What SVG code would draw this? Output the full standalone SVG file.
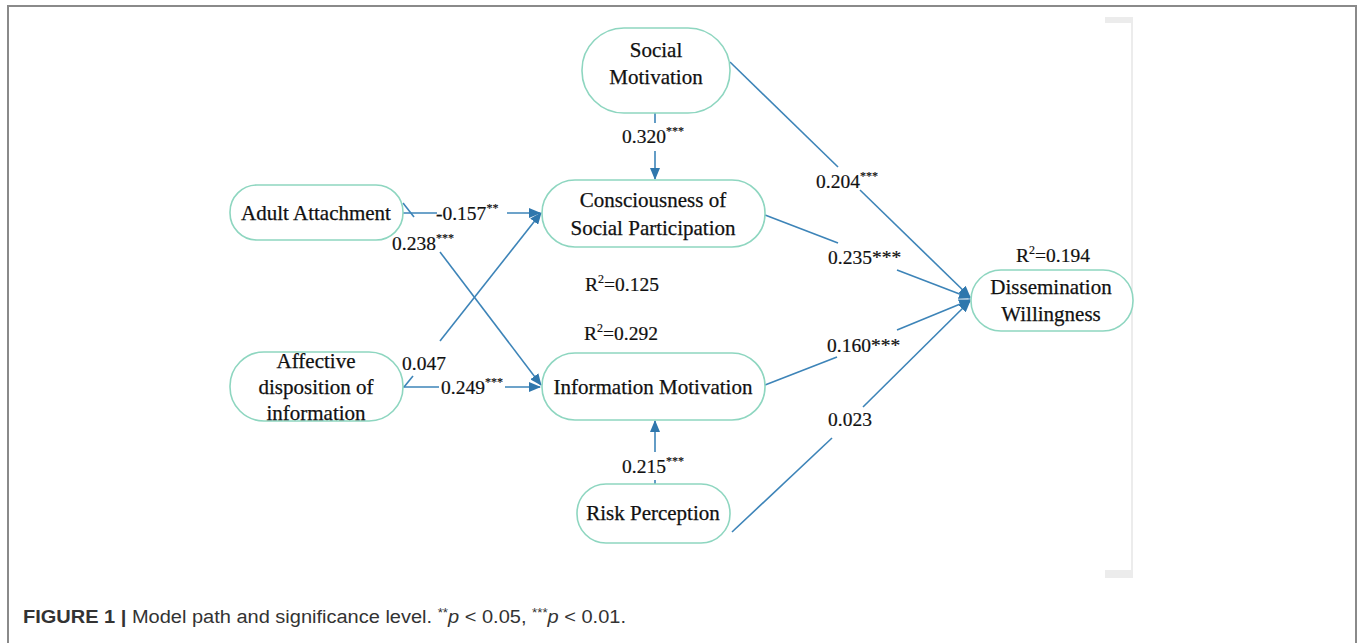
<svg xmlns="http://www.w3.org/2000/svg" width="1360" height="643" viewBox="0 0 1360 643">
<defs>
<style>
.node rect{fill:#fff;stroke:#8ed6c0;stroke-width:1.6}
.nt{font-family:"Liberation Serif","Times New Roman",serif;font-size:21px;fill:#111;text-anchor:middle;stroke:#111;stroke-width:0.25}
.lb{font-family:"Liberation Serif","Times New Roman",serif;font-size:19.5px;fill:#111;stroke:#111;stroke-width:0.2}
.sup{font-size:12px}
.edge{fill:none;stroke:#3d84b8;stroke-width:1.6}
.cap{font-family:"Liberation Sans",Arial,sans-serif;font-size:18px;fill:#333}
</style>
<marker id="arr" viewBox="0 0 12 10" refX="11" refY="5" markerWidth="12" markerHeight="10" markerUnits="userSpaceOnUse" orient="auto">
<path d="M0,0 L12,5 L0,10 z" fill="#2f77ad"/>
</marker>
</defs>
<rect x="0" y="0" width="1360" height="643" fill="#fff"/>
<path d="M8,650 V6 H1356 V650" fill="none" stroke="#8a8a8a" stroke-width="2"/>
<g id="bracket" fill="#ececec">
<rect x="1105" y="17" width="28" height="6"/>
<rect x="1105" y="570" width="28" height="8"/>
<rect x="1131" y="17" width="2" height="561"/>
</g>
<g id="connectors">
<path class="edge" d="M655,113 V123"/>
<path class="edge" d="M655,151 V179" marker-end="url(#arr)"/>
<path class="edge" d="M403,213 H437"/>
<path class="edge" d="M507,213 H540" marker-end="url(#arr)"/>
<path class="edge" d="M403,203 L414,217"/>
<path class="edge" d="M440,252 L541,385" marker-end="url(#arr)"/>
<path class="edge" d="M404,387 L413,376"/>
<path class="edge" d="M440,341 L541,213" marker-end="url(#arr)"/>
<path class="edge" d="M403,387 H439"/>
<path class="edge" d="M505,387 H540" marker-end="url(#arr)"/>
<path class="edge" d="M655,484 V480"/>
<path class="edge" d="M655,452 V421" marker-end="url(#arr)"/>
<path class="edge" d="M730,62 L838,167"/>
<path class="edge" d="M860,190 L970,297" marker-end="url(#arr)"/>
<path class="edge" d="M765,215 L838,243"/>
<path class="edge" d="M897,270 L970,298" marker-end="url(#arr)"/>
<path class="edge" d="M765,385 L837,357"/>
<path class="edge" d="M897,330 L970,300" marker-end="url(#arr)"/>
<path class="edge" d="M732,532 L832,438"/>
<path class="edge" d="M863,407 L970,301" marker-end="url(#arr)"/>
</g>
<g id="n-social" class="node">
<rect x="582" y="28" width="148" height="85" rx="42" ry="42"/>
<text class="nt" x="656" y="57">Social</text>
<text class="nt" x="656" y="84">Motivation</text>
</g>
<g id="n-consc" class="node">
<rect x="542" y="180" width="223" height="67" rx="33" ry="33"/>
<text class="nt" x="653" y="207">Consciousness of</text>
<text class="nt" x="653" y="235">Social Participation</text>
</g>
<g id="n-adult" class="node">
<rect x="230" y="185" width="173" height="55" rx="27" ry="27"/>
<text class="nt" x="316" y="220">Adult Attachment</text>
</g>
<g id="n-affect" class="node">
<rect x="230" y="352" width="173" height="69" rx="34" ry="34"/>
<text class="nt" x="316" y="368">Affective</text>
<text class="nt" x="316" y="394">disposition of</text>
<text class="nt" x="316" y="420">information</text>
</g>
<g id="n-info" class="node">
<rect x="542" y="353" width="223" height="67" rx="33" ry="33"/>
<text class="nt" x="653" y="394">Information Motivation</text>
</g>
<g id="n-risk" class="node">
<rect x="577" y="484" width="153" height="59" rx="29" ry="29"/>
<text class="nt" x="653" y="520">Risk Perception</text>
</g>
<g id="n-diss" class="node">
<rect x="971" y="270" width="162" height="61" rx="30" ry="30"/>
<text class="nt" x="1051" y="294">Dissemination</text>
<text class="nt" x="1051" y="321">Willingness</text>
</g>
<g id="labels">
<text class="lb" x="622" y="143">0.320<tspan class="sup" dy="-8">***</tspan></text>
<text class="lb" x="436" y="220">-0.157<tspan class="sup" dy="-8">**</tspan></text>
<text class="lb" x="392" y="250">0.238<tspan class="sup" dy="-8">***</tspan></text>
<text class="lb" x="402" y="370">0.047</text>
<text class="lb" x="441" y="394">0.249<tspan class="sup" dy="-8">***</tspan></text>
<text class="lb" x="585" y="291">R<tspan class="sup" dy="-8">2</tspan><tspan dy="8">=0.125</tspan></text>
<text class="lb" x="584" y="340">R<tspan class="sup" dy="-8">2</tspan><tspan dy="8">=0.292</tspan></text>
<text class="lb" x="816" y="188">0.204<tspan class="sup" dy="-8">***</tspan></text>
<text class="lb" x="828" y="264">0.235***</text>
<text class="lb" x="1016" y="262">R<tspan class="sup" dy="-8">2</tspan><tspan dy="8">=0.194</tspan></text>
<text class="lb" x="827" y="352">0.160***</text>
<text class="lb" x="828" y="426">0.023</text>
<text class="lb" x="622" y="473">0.215<tspan class="sup" dy="-8">***</tspan></text>
</g>
<g id="caption">
<text class="cap" x="23" y="623" textLength="603" lengthAdjust="spacingAndGlyphs"><tspan font-weight="bold">FIGURE 1 |</tspan> Model path and significance level. <tspan font-size="12" dy="-6">**</tspan><tspan dy="6" font-style="italic">p</tspan> &lt; 0.05, <tspan font-size="12" dy="-6">***</tspan><tspan dy="6" font-style="italic">p</tspan> &lt; 0.01.</text>
</g>
</svg>
